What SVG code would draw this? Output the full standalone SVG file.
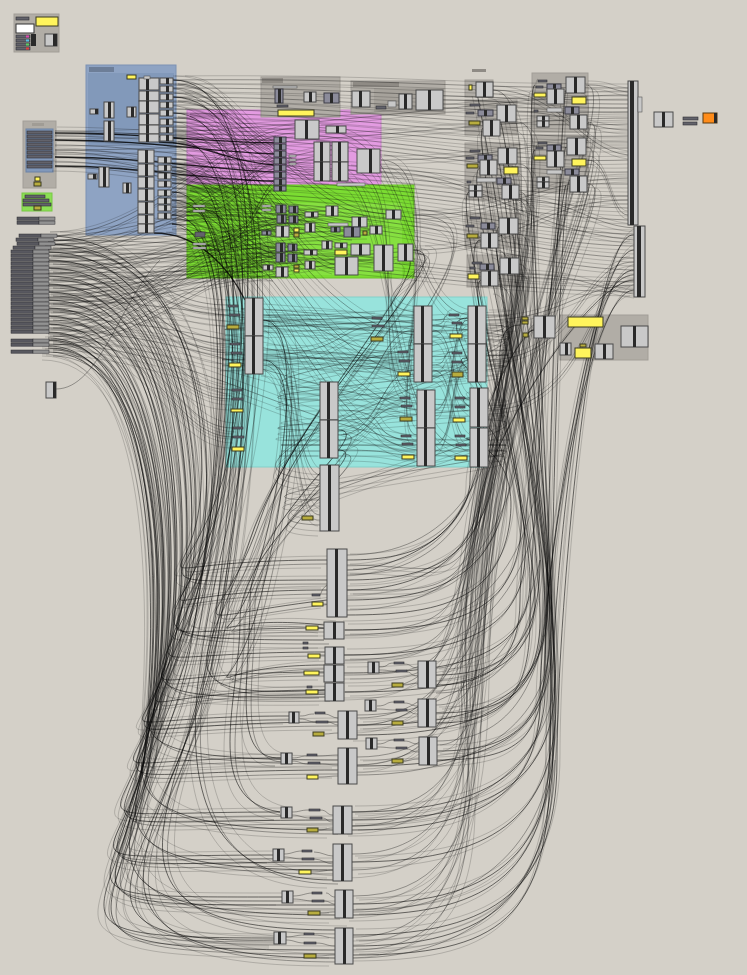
<svg xmlns="http://www.w3.org/2000/svg" xmlns:xlink="http://www.w3.org/1999/xlink" width="747" height="975" viewBox="0 0 747 975">
<style>
.gg{fill:#b1ada6;stroke:#a29e97;stroke-width:1}
.c{fill:#c9c9c9;stroke:#4a4a4a;stroke-width:1}
.k{fill:#2a2a2a}
.d{fill:#8b8b9a;stroke:#3c3c46;stroke-width:1}
.p{fill:#63636b;stroke:#2e2e33;stroke-width:.6}
.pl{fill:#c8c8c8;stroke:#555;stroke-width:.6}
.y{fill:#fff45c;stroke:#3a3a20;stroke-width:1}
.yo{fill:#b8ad3e;stroke:#3a3a20;stroke-width:1}
.w{fill:none;stroke:#111;stroke-opacity:.45;stroke-width:.8}
.wm{fill:none;stroke:#000;stroke-opacity:.6;stroke-width:.9}
.wd{fill:none;stroke:#000;stroke-opacity:.8;stroke-width:1.3}
.wl{fill:none;stroke:#111;stroke-opacity:.27;stroke-width:.7}
</style>
<defs>
<g id="row"><rect x="0" y="0" width="22" height="3.2" fill="#58585f" stroke="#2e2e33" stroke-width=".5"/><rect x="22" y="0" width="16" height="3.2" fill="#929292" stroke="#2e2e33" stroke-width=".5"/></g>
<g id="fT">
<path d="M173 80C400 78 430 88 628 88M173 88C380 88 440 100 628 100M173 97C360 97 460 115 628 112M173 105C360 105 470 130 628 124M173 113C360 113 470 140 628 136M173 122C360 122 480 150 628 148M173 130C380 130 480 165 628 160M173 138C380 138 490 175 628 172M172 159C380 159 480 185 628 184M172 167C380 167 490 195 628 196M172 175C380 175 500 205 628 208M172 183C400 183 500 215 628 220M172 192C400 192 510 232 634 234M172 200C400 200 520 245 634 246M172 207C400 207 520 255 634 258M172 215C400 215 520 268 634 270M48 240C300 240 450 280 634 282M48 252C300 252 450 290 634 292M55 135C300 135 500 95 628 95M55 150C300 150 500 118 628 118M381 160C500 160 520 140 628 142M413 250C520 250 540 200 628 200M413 215C520 215 530 180 628 178M443 100C520 100 540 108 628 108M518 112C570 112 590 130 628 130M588 85C610 85 610 90 628 92M486 320C560 320 580 285 634 285M486 360C580 360 580 262 634 262M489 410C590 410 590 275 634 275M381 172C480 172 520 230 634 240M493 90C560 90 580 150 628 155M588 160C610 160 610 215 628 215M520 199C570 199 590 225 634 228M519 274C580 274 600 290 634 294"/>
</g>
<g id="fG">
<path d="M48 236C120 236 180 210 262 208M48 244C130 244 190 230 276 230M48 256C130 256 190 250 276 248M48 268C130 268 200 265 263 267M48 280C140 280 200 270 276 272M48 292C140 292 200 245 288 246M48 304C140 304 220 258 288 258M48 316C150 316 200 220 289 218M55 131C130 131 200 140 274 140M55 145C140 145 200 160 274 162M55 162C140 162 220 186 274 186M173 80C230 80 250 140 274 140M173 88C230 88 240 160 314 155M172 159C230 159 250 210 276 209M172 167C230 167 250 220 276 220M172 175C230 175 250 232 276 232M172 183C230 183 240 248 276 248M172 192C230 192 240 258 276 258M172 200C230 200 240 270 276 272M172 207C230 207 260 215 305 215M172 215C230 215 260 228 305 228M172 224C230 224 260 253 305 253M173 113C240 113 260 170 314 170M173 122C240 122 260 175 332 175M173 130C260 130 280 250 335 265M173 138C260 138 290 240 352 240M48 328C160 328 220 215 326 211M48 340C160 340 240 235 322 245M205 206C240 206 250 160 274 158M205 245C250 245 260 190 274 182M48 236C150 236 220 130 296 128M48 250C160 250 250 150 332 150M48 262C170 262 250 230 370 230M173 97C260 97 300 210 386 214M48 274C150 274 230 200 344 232M48 286C160 286 260 240 374 258M48 298C170 298 280 260 398 252M55 152C160 152 240 200 352 222"/>
</g>
<g id="fC">
<path d="M48 250C150 250 150 305 228 305M48 262C150 262 150 315 228 315M48 274C150 274 150 344 230 344M48 286C150 286 160 353 231 353M48 298C160 298 160 390 232 390M48 310C160 310 160 399 232 399M48 322C160 322 170 428 233 428M48 334C160 334 170 437 233 437M263 315C340 315 340 318 372 318M263 355C340 355 340 327 372 327M263 317C330 317 330 352 399 352M263 357C330 357 330 361 399 361M338 400C370 400 370 398 400 398M338 440C370 440 370 407 400 407M263 320C360 320 360 315 414 315M263 350C360 350 360 360 414 360M338 395C380 395 380 330 414 330M338 435C380 435 380 370 414 370M432 325C450 325 440 315 449 315M432 365C450 365 440 352 452 352M433 330C455 330 450 400 470 400M433 370C455 370 450 440 470 440M435 410C455 410 450 320 468 320M435 445C455 445 450 360 468 360M486 325C600 325 150 385 320 388M486 365C600 365 140 400 320 400M488 405C600 405 140 430 320 430M488 445C600 445 150 445 320 445M486 330C620 330 130 470 320 480M488 450C600 450 160 500 320 500M486 315C620 315 120 330 245 330M486 355C620 355 110 360 245 360M263 325C300 325 290 470 320 475M263 365C300 365 290 515 320 515M338 410C400 410 360 440 417 440M338 450C400 450 380 455 417 455M401 252C480 252 340 300 414 312M413 215C520 215 380 350 414 350M348 170C420 170 360 395 417 395M381 160C460 160 380 435 417 435M330 170C400 170 380 450 470 450M318 130C420 130 400 305 468 315M488 420C600 420 170 520 320 525M486 340C610 340 200 300 245 310M172 159C260 159 300 320 414 335M172 183C270 183 300 360 414 375M172 207C260 207 320 400 417 410M172 224C260 224 320 440 417 450M48 300C200 300 300 340 468 330M48 318C200 318 330 380 468 370M48 330C200 330 330 410 470 405M48 344C200 344 330 450 470 445"/>
</g>
<g id="fL">
<path d="M48 236C180 236 210 400 200 500S120 560 327 560M48 244C180 244 215 400 205 520S110 590 327 590M48 252C170 252 200 420 195 540S110 628 324 628M48 260C170 260 200 430 190 560S100 652 325 652M48 268C170 268 195 440 185 580S90 672 324 672M48 276C170 276 190 450 180 600S80 690 325 690M48 284C160 284 185 460 175 610S60 716 289 716M48 292C160 292 185 470 172 620S60 722 338 722M48 300C160 300 180 480 168 640S50 758 281 758M48 308C160 308 180 490 165 650S50 770 338 770M48 316C150 316 175 500 160 670S30 812 280 812M48 324C150 324 175 510 158 680S30 820 333 820M48 332C150 332 170 520 155 700S20 855 273 855M48 340C150 340 170 530 152 710S20 862 333 862M48 348C150 348 170 540 150 720S20 897 282 897M48 352C150 352 165 550 148 730S20 905 335 905M48 338C150 338 165 560 146 740S10 938 275 938M48 346C150 346 160 570 145 750S10 950 335 950M173 80C260 80 260 300 230 450S100 580 327 580M173 113C260 113 250 330 225 480S80 640 324 640M173 138C250 138 240 360 215 520S60 700 325 697M172 167C250 167 235 400 205 560S40 760 338 760M172 192C240 192 230 420 200 580S30 830 333 830M172 215C240 215 225 450 195 620S20 870 333 870M172 224C240 224 220 480 190 650S10 915 335 915M205 210C260 210 250 480 215 650S20 958 335 958M205 245C260 245 250 500 205 680S30 945 275 940M263 320C300 320 290 450 260 560S180 610 324 625M263 360C300 360 290 480 260 600S180 665 325 665M338 430C380 430 250 520 250 600S230 760 281 758M338 450C380 450 240 540 240 620S200 800 280 812M413 250C470 250 300 400 260 520S160 620 327 600M401 255C450 255 290 420 250 540S150 700 325 690M173 97C270 97 270 320 240 470S120 880 333 880M172 200C250 200 240 440 215 620S60 930 335 930"/>
</g>
<g id="fR">
<path d="M347 560C420 560 460 540 480 460S430 318 468 318M347 580C430 580 480 560 495 470S440 358 468 358M347 600C430 600 490 580 505 500S440 398 470 398M347 615C440 615 500 600 510 520S450 438 470 438M345 630C440 630 510 620 520 540S470 325 520 325M344 655C440 655 520 640 525 560S460 280 482 280M344 673C450 673 530 660 530 580S450 240 481 240M345 692C450 692 535 680 535 600S450 200 469 192M436 675C500 675 540 650 540 560S460 170 480 168M436 713C510 713 545 690 545 600S470 130 483 128M437 751C520 751 550 720 550 620S480 95 476 90M357 725C480 725 548 700 548 600S480 230 500 226M357 766C490 766 552 740 552 640S490 265 500 266M352 820C480 820 555 790 555 680S500 157 498 156M352 862C490 862 556 820 556 700S510 115 497 113M353 904C490 904 555 860 555 720S520 85 535 85M353 946C490 946 553 900 553 740S520 150 535 150M353 955C500 955 550 920 550 760S580 270 634 270M352 830C470 830 540 800 540 700S590 250 634 250M437 760C520 760 545 740 545 650S590 290 634 290M357 735C470 735 540 710 540 620S500 330 534 330M347 570C400 570 470 530 470 480S520 330 534 330M436 685C490 685 520 660 520 600S560 200 566 185M436 723C500 723 530 700 530 620S560 150 566 147M352 812C470 812 545 780 545 690S560 100 566 90M353 915C480 915 550 880 550 740S560 180 570 180M353 935C480 935 557 900 557 760S590 230 634 235M347 590C420 590 470 560 480 500S590 280 634 280"/>
</g>
<g id="fV">
<path d="M517 122C560 122 510 300 490 450S450 565 347 565M518 164C560 164 505 320 485 470S450 630 344 630M520 199C555 199 500 340 480 490S450 655 344 655M518 234C550 234 495 360 475 510S450 675 344 675M519 274C550 274 490 380 470 520S440 692 344 692M588 122C620 122 540 300 510 450S470 718 357 718M588 184C620 184 535 320 505 480S480 757 357 757M586 147C620 147 530 330 500 500S500 812 352 812M586 85C620 85 530 300 500 470S510 854 352 854M497 175C540 175 510 360 490 520S520 896 353 896M498 286C530 286 500 420 480 540S520 937 353 937M493 90C540 90 520 300 495 450S450 590 347 590M517 200C550 200 500 380 490 500S480 668 436 668M518 264C550 264 500 400 490 520S490 705 436 705M497 250C530 250 500 420 485 540S490 745 437 745M500 226C540 226 495 380 480 500S460 725 357 725M500 160C540 160 495 400 480 520S470 765 357 765M520 192C550 192 490 420 475 540S500 826 352 826M519 274C545 274 488 440 470 560S510 870 352 870M588 122C600 122 485 460 468 580S520 910 353 910M588 184C600 184 483 480 465 600S530 950 353 950"/>
</g>
</defs>
<rect x="0" y="0" width="747" height="975" fill="#d4d0c8"/>
<g id="groups">
<g id="grp-topleft"><rect x="14" y="14" width="45" height="38" class="gg"/></g>
<g id="grp-blue"><rect x="86" y="65" width="90" height="170" fill="#8ea3c3" stroke="#7d92b3"/><rect x="88" y="73" width="86" height="72" fill="#8299ba"/><rect x="89" y="67" width="25" height="5" fill="#6d7e98"/></g>
<g id="grp-left"><rect x="23" y="121" width="33" height="67" class="gg"/><rect x="26" y="129" width="27" height="43" fill="#8198ba" stroke="#6d83a5"/><rect x="32" y="123" width="12" height="3" fill="#a09c95"/></g>
<g id="grp-lgreen"><rect x="22" y="193" width="30" height="18" fill="#8cdf55" stroke="#77c845"/></g>
<g id="grp-pink"><rect x="187" y="110" width="194" height="80" fill="#e39be1" stroke="#cc88cc"/><rect x="190" y="113" width="38" height="4" fill="#b87ab6"/></g>
<g id="grp-green"><rect x="187" y="185" width="227" height="93" fill="#7bdc32" stroke="#6cc42a"/><rect x="260" y="203" width="142" height="72" fill="#86e040"/><rect x="190" y="188" width="30" height="4" fill="#5fb02a"/></g>
<g id="grp-cyan"><rect x="226" y="297" width="261" height="170" fill="#98e3dc" stroke="#84cfc8"/></g>
<g id="grp-top1"><rect x="261" y="77" width="79" height="40" class="gg"/><rect x="262" y="78" width="21" height="5" fill="#8f8b85"/></g>
<g id="grp-top2"><rect x="351" y="81" width="94" height="33" class="gg"/><rect x="353" y="82" width="46" height="5" fill="#8f8b85"/><rect x="374" y="88" width="70" height="24" fill="#a6a29b"/></g>
<g id="grp-ra"><rect x="465" y="80" width="28" height="17" class="gg"/><rect x="472" y="69" width="14" height="3" fill="#8f8b85"/></g>
<g id="grp-rb"><rect x="465" y="100" width="52" height="35" class="gg"/></g>
<g id="grp-rc"><rect x="465" y="143" width="55" height="57" class="gg"/></g>
<g id="grp-rd"><rect x="465" y="213" width="55" height="35" class="gg"/></g>
<g id="grp-re"><rect x="467" y="255" width="53" height="32" class="gg"/></g>
<g id="grp-rf"><rect x="532" y="73" width="56" height="59" class="gg"/></g>
<g id="grp-rg"><rect x="532" y="135" width="56" height="57" class="gg"/></g>
<g id="grp-br"><rect x="560" y="315" width="88" height="45" class="gg"/></g>
</g>
<g id="connectors">
<use href="#fT" class="w"/>
<use href="#fT" class="wl" transform="translate(0,4)"/>
<use href="#fT" class="wl" transform="translate(0,-4)"/>
<use href="#fG" class="w"/>
<use href="#fG" class="w" transform="translate(0,5)"/>
<use href="#fG" class="wl" transform="translate(2,-4)"/>
<use href="#fG" class="wl" transform="translate(-3,9)"/>
<use href="#fC" class="w"/>
<use href="#fC" class="wl" transform="translate(0,6)"/>
<use href="#fC" class="wl" transform="translate(3,-5)"/>
<use href="#fC" class="wl" transform="translate(-2,11)"/>
<use href="#fL" class="wm"/>
<use href="#fL" class="w" transform="translate(5,4)"/>
<use href="#fL" class="wl" transform="translate(-6,8)"/>
<use href="#fL" class="wl" transform="translate(12,-4)"/>
<use href="#fR" class="wm"/>
<use href="#fR" class="wl" transform="translate(-4,6)"/>
<use href="#fR" class="wl" transform="translate(3,-6)"/>
<use href="#fV" class="w"/>
<use href="#fV" class="wl" transform="translate(6,4)"/>
<use href="#fV" class="wl" transform="translate(-5,8)"/>
<path class="wd" d="M55 133C150 133 200 142 274 143M55 140C150 140 210 152 274 154M55 157C150 157 210 170 274 172M55 166C140 166 200 180 274 181M159 142C200 142 220 160 274 165M154 233C200 233 230 270 245 300"/>
<path class="w" d="M379 667C390 667 385 663 394 663M379 670C390 670 385 671 396 671M377 706C388 706 385 702 394 702M377 709C388 709 385 710 396 710M377 744C388 744 385 740 394 740M377 747C388 747 385 748 396 748M404 664C412 664 410 668 418 668M407 672C412 672 410 676 418 676M403 685C412 685 410 683 418 683M404 703C412 703 410 706 418 706M407 711C412 711 410 714 418 714M403 723C412 723 410 721 418 721M404 741C412 741 410 744 419 744M407 749C412 749 410 752 419 752M403 761C412 761 410 759 419 759M300 716C308 716 306 714 314 714M300 719C308 719 308 722 316 722M292 758C300 758 300 756 307 756M292 761C300 761 300 764 308 764M292 812C300 812 300 810 309 810M292 815C300 815 302 818 310 818M284 854C292 854 294 851 302 851M284 857C292 857 294 859 302 859M293 896C302 896 306 893 312 893M293 899C302 899 306 901 312 901M286 937C294 937 296 935 304 935M286 940C294 940 296 943 304 943M320 810C328 810 326 815 333 815M322 818C328 818 326 822 333 822M319 830C326 830 326 828 333 828M314 852C322 852 326 856 333 856M314 859C322 859 326 864 333 864M311 872C322 872 326 870 333 870M326 893C330 893 330 897 335 897M324 901C330 901 330 904 335 904M320 913C328 913 328 912 335 912M314 935C324 935 326 938 335 938M316 943C326 943 326 946 335 946M316 956C326 956 326 955 335 955M325 714C330 714 332 718 338 718M328 722C332 722 334 725 338 725M325 734C330 734 332 733 338 733M317 756C326 756 330 755 338 755M320 764C328 764 330 765 338 765M319 777C328 777 330 776 338 776M319 595C322 595 320 590 327 585M323 604C325 604 325 604 327 604M318 628C321 628 321 628 324 628M320 655C322 655 322 655 325 655M318 673C321 673 321 673 324 673M317 692C321 692 321 692 325 692M347 555C450 555 500 480 520 330M347 575C430 575 480 520 480 450M347 610C460 610 530 540 534 320M345 635C450 635 520 600 540 470M345 660C450 660 520 620 540 500M436 693C500 693 530 650 540 560M437 741C500 741 540 700 548 600M357 715C470 715 520 650 540 560M357 775C480 775 548 720 550 640M352 826C470 826 555 760 555 670M353 912C480 912 555 840 555 720M353 958C480 958 555 880 555 760M56 389C100 389 120 300 160 260"/>
</g>
<g id="nodes">
<g id="n-tl"><rect x="16" y="17" width="13" height="3" class="p"/><rect x="36" y="17" width="22" height="9" class="y"/><rect x="16" y="24" width="18" height="9" fill="#fff" stroke="#333"/><rect x="16" y="35" width="14" height="3" class="p"/><rect x="16" y="39" width="14" height="3" class="p"/><rect x="16" y="43" width="14" height="3" class="p"/><rect x="16" y="47" width="14" height="3" class="p"/><rect x="26" y="35.5" width="3" height="2" fill="#e04ab0"/><rect x="26" y="39.5" width="3" height="2" fill="#58c0e0"/><rect x="26" y="43.5" width="3" height="2" fill="#5ad060"/><rect x="26" y="47.5" width="3" height="2" fill="#e04040"/><rect x="45" y="34" width="12" height="12" class="c"/><rect x="53" y="34" width="4" height="12" class="k"/><rect x="31" y="34" width="5" height="12" class="k"/></g>
<g id="n-blueA">
<rect x="139" y="78" width="20" height="12" class="c"/><rect x="146" y="78" width="3" height="12" class="k"/>
<rect x="139" y="91" width="20" height="10" class="c"/><rect x="146" y="91" width="3" height="10" class="k"/>
<rect x="139" y="101" width="20" height="12" class="c"/><rect x="146" y="101" width="3" height="12" class="k"/>
<rect x="139" y="114" width="20" height="11" class="c"/><rect x="146" y="114" width="3" height="11" class="k"/>
<rect x="139" y="125" width="20" height="9" class="c"/><rect x="146" y="125" width="3" height="9" class="k"/>
<rect x="139" y="134" width="20" height="8" class="c"/><rect x="146" y="134" width="3" height="8" class="k"/>
</g>
<g id="n-blueAo">
<rect x="160" y="78" width="13" height="6" class="c"/><rect x="166" y="78" width="3" height="6" class="k"/>
<rect x="160" y="86" width="13" height="6" class="c"/><rect x="166" y="86" width="3" height="6" class="k"/>
<rect x="160" y="94" width="13" height="6" class="c"/><rect x="166" y="94" width="3" height="6" class="k"/>
<rect x="160" y="102" width="13" height="6" class="c"/><rect x="166" y="102" width="3" height="6" class="k"/>
<rect x="160" y="110" width="13" height="6" class="c"/><rect x="166" y="110" width="3" height="6" class="k"/>
<rect x="160" y="119" width="13" height="6" class="c"/><rect x="166" y="119" width="3" height="6" class="k"/>
<rect x="160" y="127" width="13" height="6" class="c"/><rect x="166" y="127" width="3" height="6" class="k"/>
<rect x="160" y="135" width="13" height="6" class="c"/><rect x="166" y="135" width="3" height="6" class="k"/>
</g>
<g id="n-blueB">
<rect x="138" y="150" width="16" height="13" class="c"/><rect x="145" y="150" width="3" height="13" class="k"/>
<rect x="138" y="164" width="16" height="12" class="c"/><rect x="145" y="164" width="3" height="12" class="k"/>
<rect x="138" y="177" width="16" height="11" class="c"/><rect x="145" y="177" width="3" height="11" class="k"/>
<rect x="138" y="189" width="16" height="12" class="c"/><rect x="145" y="189" width="3" height="12" class="k"/>
<rect x="138" y="202" width="16" height="12" class="c"/><rect x="145" y="202" width="3" height="12" class="k"/>
<rect x="138" y="215" width="16" height="9" class="c"/><rect x="145" y="215" width="3" height="9" class="k"/>
<rect x="138" y="224" width="16" height="9" class="c"/><rect x="145" y="224" width="3" height="9" class="k"/>
</g>
<g id="n-blueBo">
<rect x="158" y="157" width="13" height="6" class="c"/><rect x="164" y="157" width="3" height="6" class="k"/>
<rect x="158" y="165" width="13" height="6" class="c"/><rect x="164" y="165" width="3" height="6" class="k"/>
<rect x="158" y="173" width="13" height="6" class="c"/><rect x="164" y="173" width="3" height="6" class="k"/>
<rect x="158" y="181" width="13" height="6" class="c"/><rect x="164" y="181" width="3" height="6" class="k"/>
<rect x="158" y="190" width="13" height="6" class="c"/><rect x="164" y="190" width="3" height="6" class="k"/>
<rect x="158" y="198" width="13" height="6" class="c"/><rect x="164" y="198" width="3" height="6" class="k"/>
<rect x="158" y="205" width="13" height="6" class="c"/><rect x="164" y="205" width="3" height="6" class="k"/>
<rect x="158" y="213" width="13" height="6" class="c"/><rect x="164" y="213" width="3" height="6" class="k"/>
</g>
<g id="n-blue-misc">
<rect x="127" y="75" width="9" height="4" class="y"/><rect x="144" y="76" width="6" height="3" class="pl"/>
<rect x="90" y="109" width="8" height="5" class="c"/><rect x="95" y="109" width="3" height="5" class="k"/>
<rect x="104" y="102" width="10" height="16" class="c"/><rect x="108" y="102" width="3" height="16" class="k"/>
<rect x="104" y="121" width="10" height="20" class="c"/><rect x="108" y="121" width="3" height="20" class="k"/>
<rect x="127" y="107" width="9" height="10" class="c"/><rect x="131" y="107" width="3" height="10" class="k"/>
<rect x="88" y="174" width="9" height="5" class="c"/><rect x="93" y="174" width="3" height="5" class="k"/>
<rect x="99" y="167" width="10" height="20" class="c"/><rect x="103" y="167" width="3" height="20" class="k"/>
<rect x="123" y="183" width="8" height="10" class="c"/><rect x="126" y="183" width="3" height="10" class="k"/>
</g>
<g id="n-leftgroup">
<rect x="27" y="131" width="25" height="3" class="p"/><rect x="27" y="135" width="25" height="3" class="p"/><rect x="27" y="139" width="25" height="3" class="p"/><rect x="27" y="143" width="25" height="3" class="p"/><rect x="27" y="147" width="25" height="3" class="p"/><rect x="27" y="151" width="25" height="3" class="p"/><rect x="27" y="155" width="25" height="3" class="p"/><rect x="27" y="161" width="25" height="3" class="p"/><rect x="27" y="165" width="25" height="3" class="p"/>
<rect x="35" y="177" width="5" height="4" class="y"/><rect x="34" y="182" width="7" height="4" class="yo"/>
</g>
<g id="n-lgreen"><rect x="25" y="195" width="20" height="3" class="p"/><rect x="23" y="199" width="26" height="3" class="p"/><rect x="23" y="203" width="28" height="3" class="p"/><rect x="34" y="206" width="7" height="4" class="yo"/></g>
<g id="n-leftlist">
<use href="#row" x="17" y="217"/><use href="#row" x="17" y="221"/>
<use href="#row" x="19" y="234"/><use href="#row" x="16" y="238"/><use href="#row" x="17" y="242"/><use href="#row" x="13" y="246"/>
<use href="#row" x="11" y="250"/><use href="#row" x="11" y="254"/><use href="#row" x="11" y="258"/><use href="#row" x="11" y="262"/>
<use href="#row" x="11" y="266"/><use href="#row" x="11" y="270"/><use href="#row" x="11" y="274"/><use href="#row" x="11" y="278"/>
<use href="#row" x="11" y="282"/><use href="#row" x="11" y="286"/><use href="#row" x="11" y="290"/><use href="#row" x="11" y="294"/>
<use href="#row" x="11" y="298"/><use href="#row" x="11" y="302"/><use href="#row" x="11" y="306"/><use href="#row" x="11" y="310"/>
<use href="#row" x="11" y="314"/><use href="#row" x="11" y="318"/><use href="#row" x="11" y="322"/><use href="#row" x="11" y="326"/>
<use href="#row" x="11" y="330"/><use href="#row" x="11" y="339"/><use href="#row" x="11" y="343"/><use href="#row" x="11" y="350"/>
</g>
<g id="n-lone"><rect x="46" y="382" width="10" height="16" class="c"/><rect x="53" y="382" width="3" height="16" class="k"/></g>
<g id="n-pink">
<rect x="274" y="137" width="12" height="6" class="d"/><rect x="279" y="137" width="3" height="6" class="k"/>
<rect x="274" y="144" width="12" height="6" class="d"/><rect x="279" y="144" width="3" height="6" class="k"/>
<rect x="274" y="151" width="12" height="6" class="d"/><rect x="279" y="151" width="3" height="6" class="k"/>
<rect x="274" y="158" width="12" height="6" class="d"/><rect x="279" y="158" width="3" height="6" class="k"/>
<rect x="274" y="165" width="12" height="6" class="d"/><rect x="279" y="165" width="3" height="6" class="k"/>
<rect x="274" y="172" width="12" height="6" class="d"/><rect x="279" y="172" width="3" height="6" class="k"/>
<rect x="274" y="179" width="12" height="6" class="d"/><rect x="279" y="179" width="3" height="6" class="k"/>
<rect x="274" y="186" width="12" height="5" class="d"/><rect x="279" y="186" width="3" height="5" class="k"/>
<rect x="289" y="155" width="7" height="2" class="pl"/><rect x="289" y="159" width="7" height="2" class="pl"/><rect x="289" y="163" width="7" height="2" class="pl"/>
<rect x="314" y="142" width="16" height="20" class="c"/><rect x="320" y="142" width="3" height="20" class="k"/>
<rect x="314" y="162" width="16" height="19" class="c"/><rect x="320" y="162" width="3" height="19" class="k"/>
<rect x="332" y="142" width="16" height="20" class="c"/><rect x="338" y="142" width="3" height="20" class="k"/>
<rect x="332" y="162" width="16" height="19" class="c"/><rect x="338" y="162" width="3" height="19" class="k"/>
<rect x="357" y="149" width="23" height="24" class="c"/><rect x="369" y="149" width="3" height="24" class="k"/>
<rect x="295" y="120" width="24" height="19" class="c"/><rect x="305" y="120" width="3" height="19" class="k"/>
<rect x="326" y="126" width="20" height="7" class="c"/><rect x="336" y="126" width="3" height="7" class="k"/>
<rect x="337" y="183" width="28" height="3" class="pl"/>
</g>
<g id="n-green">
<rect x="193" y="205" width="12" height="2" class="pl"/><rect x="193" y="210" width="12" height="2" class="pl"/>
<rect x="262" y="205" width="9" height="2" class="pl"/><rect x="262" y="209" width="9" height="2" class="pl"/>
<rect x="195" y="232" width="10" height="5" class="p"/><rect x="193" y="243" width="13" height="2" class="pl"/><rect x="193" y="247" width="13" height="2" class="pl"/>
<rect x="276" y="205" width="10" height="8" class="d"/><rect x="280" y="205" width="3" height="8" class="k"/>
<rect x="289" y="206" width="9" height="7" class="d"/><rect x="293" y="206" width="3" height="7" class="k"/>
<rect x="277" y="215" width="9" height="8" class="d"/><rect x="281" y="215" width="3" height="8" class="k"/>
<rect x="289" y="216" width="9" height="7" class="d"/><rect x="293" y="216" width="3" height="7" class="k"/>
<rect x="276" y="226" width="13" height="11" class="c"/><rect x="281" y="226" width="3" height="11" class="k"/>
<rect x="294" y="228" width="5" height="4" class="y"/><rect x="294" y="233" width="5" height="4" class="yo"/>
<rect x="305" y="212" width="13" height="5" class="c"/><rect x="311" y="212" width="3" height="5" class="k"/>
<rect x="305" y="223" width="10" height="9" class="c"/><rect x="309" y="223" width="3" height="9" class="k"/>
<rect x="326" y="206" width="12" height="10" class="c"/><rect x="331" y="206" width="3" height="10" class="k"/>
<rect x="328" y="223" width="20" height="3" class="pl"/>
<rect x="352" y="217" width="15" height="10" class="c"/><rect x="358" y="217" width="3" height="10" class="k"/>
<rect x="331" y="227" width="9" height="5" class="d"/><rect x="334" y="227" width="3" height="5" class="k"/>
<rect x="344" y="227" width="16" height="10" class="d"/><rect x="351" y="227" width="3" height="10" class="k"/>
<rect x="363" y="231" width="4" height="4" class="yo"/>
<rect x="370" y="226" width="12" height="8" class="c"/><rect x="375" y="226" width="3" height="8" class="k"/>
<rect x="386" y="210" width="15" height="9" class="c"/><rect x="392" y="210" width="3" height="9" class="k"/>
<rect x="262" y="231" width="9" height="4" class="d"/><rect x="266" y="231" width="2" height="4" class="k"/>
<rect x="276" y="243" width="9" height="9" class="d"/><rect x="280" y="243" width="3" height="9" class="k"/>
<rect x="288" y="244" width="9" height="7" class="d"/><rect x="292" y="244" width="3" height="7" class="k"/>
<rect x="276" y="253" width="9" height="9" class="d"/><rect x="280" y="253" width="3" height="9" class="k"/>
<rect x="288" y="254" width="9" height="8" class="d"/><rect x="292" y="254" width="3" height="8" class="k"/>
<rect x="304" y="250" width="13" height="5" class="c"/><rect x="310" y="250" width="3" height="5" class="k"/>
<rect x="305" y="261" width="10" height="8" class="c"/><rect x="309" y="261" width="3" height="8" class="k"/>
<rect x="263" y="265" width="10" height="5" class="c"/><rect x="267" y="265" width="3" height="5" class="k"/>
<rect x="276" y="267" width="12" height="10" class="c"/><rect x="281" y="267" width="3" height="10" class="k"/>
<rect x="294" y="265" width="5" height="3" class="yo"/><rect x="294" y="269" width="5" height="3" class="y"/>
<rect x="322" y="241" width="10" height="8" class="c"/><rect x="326" y="241" width="3" height="8" class="k"/>
<rect x="335" y="243" width="12" height="5" class="c"/><rect x="340" y="243" width="3" height="5" class="k"/>
<rect x="335" y="250" width="12" height="5" class="y"/>
<rect x="335" y="257" width="23" height="18" class="c"/><rect x="345" y="257" width="3" height="18" class="k"/>
<rect x="351" y="244" width="19" height="11" class="c"/><rect x="359" y="244" width="3" height="11" class="k"/>
<rect x="374" y="245" width="19" height="26" class="c"/><rect x="382" y="245" width="3" height="26" class="k"/>
<rect x="398" y="244" width="15" height="17" class="c"/><rect x="404" y="244" width="3" height="17" class="k"/>
</g>
<g id="n-top1">
<rect x="273" y="86" width="24" height="2" class="pl"/>
<rect x="275" y="89" width="8" height="14" class="d"/><rect x="278" y="89" width="3" height="14" class="k"/>
<rect x="277" y="105" width="11" height="2" class="p"/>
<rect x="304" y="92" width="12" height="10" class="c"/><rect x="309" y="92" width="3" height="10" class="k"/>
<rect x="324" y="93" width="15" height="10" class="d"/><rect x="330" y="93" width="3" height="10" class="k"/>
<rect x="278" y="110" width="36" height="6" class="y"/>
</g>
<g id="n-top2">
<rect x="352" y="91" width="18" height="16" class="c"/><rect x="359" y="91" width="3" height="16" class="k"/>
<rect x="376" y="106" width="10" height="3" class="p"/><rect x="388" y="101" width="8" height="6" class="pl"/>
<rect x="399" y="94" width="13" height="15" class="c"/><rect x="404" y="94" width="3" height="15" class="k"/>
<rect x="416" y="90" width="27" height="20" class="c"/><rect x="428" y="90" width="3" height="20" class="k"/>
</g>
<g id="n-ra"><rect x="469" y="85" width="3" height="5" class="y"/><rect x="476" y="82" width="17" height="15" class="c"/><rect x="483" y="82" width="3" height="15" class="k"/></g>
<g id="n-rb">
<rect x="470" y="104" width="10" height="2" class="p"/><rect x="466" y="112" width="8" height="2" class="p"/>
<rect x="478" y="110" width="15" height="6" class="d"/><rect x="484" y="110" width="3" height="6" class="k"/>
<rect x="497" y="105" width="19" height="17" class="c"/><rect x="505" y="105" width="3" height="17" class="k"/>
<rect x="469" y="121" width="11" height="4" class="yo"/>
<rect x="483" y="120" width="17" height="16" class="c"/><rect x="490" y="120" width="3" height="16" class="k"/>
</g>
<g id="n-rc">
<rect x="470" y="150" width="10" height="2" class="p"/><rect x="466" y="157" width="8" height="2" class="p"/>
<rect x="478" y="155" width="14" height="7" class="d"/><rect x="484" y="155" width="3" height="7" class="k"/>
<rect x="498" y="148" width="19" height="16" class="c"/><rect x="506" y="148" width="3" height="16" class="k"/>
<rect x="467" y="164" width="11" height="4" class="yo"/>
<rect x="480" y="160" width="17" height="15" class="c"/><rect x="487" y="160" width="3" height="15" class="k"/>
<rect x="504" y="167" width="14" height="7" class="y"/>
<rect x="477" y="178" width="19" height="4" class="pl"/><rect x="467" y="181" width="4" height="2" class="p"/>
<rect x="497" y="178" width="14" height="6" class="d"/><rect x="503" y="178" width="3" height="6" class="k"/>
<rect x="469" y="185" width="13" height="6" class="c"/><rect x="474" y="185" width="3" height="6" class="k"/>
<rect x="469" y="191" width="13" height="6" class="c"/><rect x="474" y="191" width="3" height="6" class="k"/>
<rect x="502" y="185" width="17" height="14" class="c"/><rect x="509" y="185" width="3" height="14" class="k"/>
</g>
<g id="n-rd">
<rect x="470" y="217" width="10" height="2" class="p"/><rect x="466" y="225" width="8" height="2" class="p"/>
<rect x="481" y="223" width="14" height="6" class="d"/><rect x="487" y="223" width="3" height="6" class="k"/>
<rect x="499" y="218" width="19" height="16" class="c"/><rect x="507" y="218" width="3" height="16" class="k"/>
<rect x="467" y="234" width="11" height="4" class="yo"/>
<rect x="481" y="233" width="17" height="15" class="c"/><rect x="488" y="233" width="3" height="15" class="k"/>
</g>
<g id="n-re">
<rect x="472" y="262" width="10" height="2" class="p"/><rect x="470" y="267" width="5" height="2" class="p"/>
<rect x="480" y="264" width="14" height="6" class="d"/><rect x="486" y="264" width="3" height="6" class="k"/>
<rect x="500" y="258" width="19" height="16" class="c"/><rect x="508" y="258" width="3" height="16" class="k"/>
<rect x="468" y="274" width="11" height="5" class="y"/>
<rect x="481" y="271" width="17" height="15" class="c"/><rect x="488" y="271" width="3" height="15" class="k"/>
</g>
<g id="n-rf">
<rect x="538" y="80" width="9" height="2" class="p"/><rect x="536" y="86" width="7" height="2" class="p"/>
<rect x="547" y="84" width="14" height="6" class="d"/><rect x="553" y="84" width="3" height="6" class="k"/>
<rect x="566" y="77" width="19" height="16" class="c"/><rect x="574" y="77" width="3" height="16" class="k"/>
<rect x="534" y="93" width="12" height="4" class="y"/>
<rect x="547" y="89" width="17" height="15" class="c"/><rect x="554" y="89" width="3" height="15" class="k"/>
<rect x="572" y="97" width="14" height="7" class="y"/>
<rect x="534" y="110" width="4" height="2" class="p"/><rect x="547" y="108" width="15" height="4" class="pl"/>
<rect x="565" y="107" width="14" height="7" class="d"/><rect x="571" y="107" width="3" height="7" class="k"/>
<rect x="537" y="116" width="12" height="5" class="c"/><rect x="542" y="116" width="3" height="5" class="k"/>
<rect x="537" y="121" width="12" height="6" class="c"/><rect x="542" y="121" width="3" height="6" class="k"/>
<rect x="570" y="115" width="17" height="14" class="c"/><rect x="577" y="115" width="3" height="14" class="k"/>
</g>
<g id="n-rg">
<rect x="538" y="142" width="9" height="2" class="p"/><rect x="536" y="147" width="7" height="2" class="p"/>
<rect x="547" y="145" width="14" height="6" class="d"/><rect x="553" y="145" width="3" height="6" class="k"/>
<rect x="567" y="138" width="19" height="17" class="c"/><rect x="575" y="138" width="3" height="17" class="k"/>
<rect x="534" y="156" width="12" height="4" class="y"/>
<rect x="547" y="151" width="17" height="16" class="c"/><rect x="554" y="151" width="3" height="16" class="k"/>
<rect x="572" y="159" width="14" height="7" class="y"/>
<rect x="547" y="170" width="15" height="4" class="pl"/>
<rect x="565" y="169" width="14" height="6" class="d"/><rect x="571" y="169" width="3" height="6" class="k"/>
<rect x="537" y="177" width="12" height="5" class="c"/><rect x="542" y="177" width="3" height="5" class="k"/>
<rect x="537" y="182" width="12" height="6" class="c"/><rect x="542" y="182" width="3" height="6" class="k"/>
<rect x="570" y="176" width="17" height="16" class="c"/><rect x="577" y="176" width="3" height="16" class="k"/>
</g>
<g id="n-bars">
<rect x="628" y="81" width="10" height="144" class="c"/><rect x="630" y="81" width="4" height="144" class="k"/>
<rect x="638" y="97" width="4" height="15" class="pl"/>
<rect x="634" y="226" width="11" height="71" class="c"/><rect x="637" y="226" width="4" height="71" class="k"/>
</g>
<g id="n-out">
<rect x="654" y="112" width="19" height="15" class="c"/><rect x="662" y="112" width="3" height="15" class="k"/>
<rect x="683" y="117" width="15" height="3" class="p"/><rect x="683" y="122" width="14" height="3" class="p"/>
<rect x="703" y="113" width="14" height="10" fill="#ff8c1a" stroke="#5a3a10"/><rect x="714" y="113" width="3" height="10" class="k"/>
</g>
<g id="n-br">
<rect x="522" y="317" width="6" height="3" class="yo"/><rect x="522" y="321" width="6" height="3" class="yo"/><rect x="523" y="333" width="5" height="4" class="yo"/>
<rect x="534" y="316" width="21" height="22" class="c"/><rect x="543" y="316" width="3" height="22" class="k"/>
<rect x="568" y="317" width="35" height="10" class="y"/>
<rect x="621" y="326" width="27" height="21" class="c"/><rect x="633" y="326" width="3" height="21" class="k"/>
<rect x="560" y="343" width="11" height="12" class="c"/><rect x="565" y="343" width="3" height="12" class="k"/>
<rect x="580" y="344" width="6" height="3" class="yo"/>
<rect x="575" y="348" width="16" height="10" class="y"/>
<rect x="595" y="344" width="18" height="15" class="c"/><rect x="603" y="344" width="3" height="15" class="k"/>
</g>
<g id="n-cyan">
<rect x="245" y="298" width="18" height="38" class="c"/><rect x="252" y="298" width="3" height="38" class="k"/>
<rect x="245" y="336" width="18" height="38" class="c"/><rect x="252" y="336" width="3" height="38" class="k"/>
<rect x="320" y="382" width="18" height="38" class="c"/><rect x="327" y="382" width="3" height="38" class="k"/>
<rect x="320" y="420" width="18" height="38" class="c"/><rect x="327" y="420" width="3" height="38" class="k"/>
<rect x="320" y="465" width="19" height="66" class="c"/><rect x="328" y="465" width="3" height="66" class="k"/>
<rect x="414" y="306" width="18" height="38" class="c"/><rect x="421" y="306" width="3" height="38" class="k"/>
<rect x="414" y="344" width="18" height="38" class="c"/><rect x="421" y="344" width="3" height="38" class="k"/>
<rect x="417" y="390" width="18" height="38" class="c"/><rect x="424" y="390" width="3" height="38" class="k"/>
<rect x="417" y="428" width="18" height="38" class="c"/><rect x="424" y="428" width="3" height="38" class="k"/>
<rect x="468" y="306" width="18" height="38" class="c"/><rect x="475" y="306" width="3" height="38" class="k"/>
<rect x="468" y="344" width="18" height="38" class="c"/><rect x="475" y="344" width="3" height="38" class="k"/>
<rect x="470" y="388" width="18" height="39" class="c"/><rect x="477" y="388" width="3" height="39" class="k"/>
<rect x="470" y="428" width="18" height="39" class="c"/><rect x="477" y="428" width="3" height="39" class="k"/>
</g>
<g id="n-cyan-params">
<rect x="228" y="305" width="10" height="2" class="p"/><rect x="229" y="314" width="11" height="2" class="p"/><rect x="227" y="325" width="12" height="4" class="yo"/>
<rect x="230" y="343" width="10" height="2" class="p"/><rect x="231" y="352" width="11" height="2" class="p"/><rect x="229" y="363" width="12" height="4" class="y"/>
<rect x="232" y="389" width="10" height="2" class="p"/><rect x="232" y="398" width="11" height="2" class="p"/><rect x="231" y="409" width="12" height="3" class="y"/>
<rect x="233" y="427" width="10" height="2" class="p"/><rect x="233" y="436" width="11" height="2" class="p"/><rect x="232" y="447" width="12" height="4" class="y"/>
<rect x="372" y="317" width="10" height="2" class="p"/><rect x="372" y="325" width="12" height="2" class="p"/><rect x="371" y="337" width="12" height="4" class="yo"/>
<rect x="398" y="351" width="10" height="2" class="p"/><rect x="399" y="360" width="11" height="2" class="p"/><rect x="398" y="372" width="12" height="4" class="y"/>
<rect x="400" y="397" width="10" height="2" class="p"/><rect x="401" y="405" width="11" height="2" class="p"/><rect x="400" y="417" width="12" height="4" class="yo"/>
<rect x="401" y="435" width="10" height="2" class="p"/><rect x="402" y="443" width="11" height="2" class="p"/><rect x="402" y="455" width="12" height="4" class="y"/>
<rect x="449" y="314" width="10" height="2" class="p"/><rect x="452" y="322" width="10" height="2" class="p"/><rect x="450" y="334" width="12" height="4" class="y"/>
<rect x="452" y="352" width="10" height="2" class="p"/><rect x="452" y="361" width="10" height="2" class="p"/><rect x="452" y="372" width="11" height="5" class="yo"/>
<rect x="455" y="397" width="10" height="2" class="p"/><rect x="455" y="406" width="10" height="2" class="p"/><rect x="453" y="418" width="12" height="4" class="y"/>
<rect x="455" y="435" width="10" height="2" class="p"/><rect x="456" y="444" width="10" height="2" class="p"/><rect x="455" y="456" width="12" height="4" class="y"/>
<rect x="302" y="516" width="11" height="4" class="yo"/>
</g>
<g id="n-bottom">
<rect x="327" y="549" width="20" height="68" class="c"/><rect x="335" y="549" width="3" height="68" class="k"/>
<rect x="312" y="594" width="8" height="2" class="p"/><rect x="312" y="602" width="11" height="4" class="y"/>
<rect x="324" y="622" width="20" height="17" class="c"/><rect x="333" y="622" width="3" height="17" class="k"/>
<rect x="306" y="626" width="12" height="4" class="y"/>
<rect x="303" y="642" width="5" height="2" class="p"/><rect x="303" y="647" width="5" height="2" class="p"/><rect x="308" y="654" width="12" height="4" class="y"/>
<rect x="325" y="647" width="19" height="17" class="c"/><rect x="333" y="647" width="3" height="17" class="k"/>
<rect x="324" y="665" width="20" height="17" class="c"/><rect x="333" y="665" width="3" height="17" class="k"/>
<rect x="304" y="671" width="15" height="4" class="y"/>
<rect x="325" y="683" width="19" height="18" class="c"/><rect x="333" y="683" width="3" height="18" class="k"/>
<rect x="307" y="686" width="5" height="2" class="p"/><rect x="306" y="690" width="12" height="4" class="y"/>
</g>
<g id="n-mid-a">
<rect x="368" y="662" width="11" height="11" class="c"/><rect x="372" y="662" width="3" height="11" class="k"/>
<rect x="394" y="662" width="10" height="2" class="p"/><rect x="396" y="670" width="11" height="2" class="p"/><rect x="392" y="683" width="11" height="4" class="yo"/>
<rect x="418" y="661" width="18" height="27" class="c"/><rect x="426" y="661" width="3" height="27" class="k"/>
</g>
<g id="n-mid-b">
<rect x="365" y="700" width="11" height="11" class="c"/><rect x="369" y="700" width="3" height="11" class="k"/>
<rect x="394" y="701" width="10" height="2" class="p"/><rect x="396" y="709" width="11" height="2" class="p"/><rect x="392" y="721" width="11" height="4" class="yo"/>
<rect x="418" y="699" width="18" height="28" class="c"/><rect x="426" y="699" width="3" height="28" class="k"/>
</g>
<g id="n-mid-c">
<rect x="366" y="738" width="11" height="11" class="c"/><rect x="370" y="738" width="3" height="11" class="k"/>
<rect x="394" y="739" width="10" height="2" class="p"/><rect x="396" y="747" width="11" height="2" class="p"/><rect x="392" y="759" width="11" height="4" class="yo"/>
<rect x="419" y="737" width="18" height="28" class="c"/><rect x="427" y="737" width="3" height="28" class="k"/>
</g>
<g id="n-low1">
<rect x="289" y="712" width="10" height="11" class="c"/><rect x="292" y="712" width="3" height="11" class="k"/>
<rect x="315" y="712" width="10" height="2" class="p"/><rect x="316" y="721" width="12" height="2" class="p"/><rect x="313" y="732" width="11" height="4" class="yo"/>
<rect x="338" y="711" width="19" height="28" class="c"/><rect x="346" y="711" width="3" height="28" class="k"/>
</g>
<g id="n-low2">
<rect x="281" y="753" width="11" height="11" class="c"/><rect x="285" y="753" width="3" height="11" class="k"/>
<rect x="307" y="754" width="10" height="2" class="p"/><rect x="308" y="762" width="12" height="2" class="p"/><rect x="307" y="775" width="11" height="4" class="y"/>
<rect x="338" y="748" width="19" height="36" class="c"/><rect x="346" y="748" width="3" height="36" class="k"/>
</g>
<g id="n-low3">
<rect x="281" y="807" width="11" height="11" class="c"/><rect x="285" y="807" width="3" height="11" class="k"/>
<rect x="309" y="809" width="11" height="2" class="p"/><rect x="310" y="817" width="12" height="2" class="p"/><rect x="307" y="828" width="11" height="4" class="yo"/>
<rect x="333" y="806" width="19" height="28" class="c"/><rect x="341" y="806" width="3" height="28" class="k"/>
</g>
<g id="n-low4">
<rect x="273" y="849" width="11" height="12" class="c"/><rect x="277" y="849" width="3" height="12" class="k"/>
<rect x="302" y="850" width="10" height="2" class="p"/><rect x="302" y="858" width="12" height="2" class="p"/><rect x="299" y="870" width="12" height="4" class="y"/>
<rect x="333" y="844" width="19" height="37" class="c"/><rect x="341" y="844" width="3" height="37" class="k"/>
</g>
<g id="n-low5">
<rect x="282" y="891" width="11" height="12" class="c"/><rect x="286" y="891" width="3" height="12" class="k"/>
<rect x="312" y="892" width="10" height="2" class="p"/><rect x="312" y="900" width="12" height="2" class="p"/><rect x="308" y="911" width="12" height="4" class="yo"/>
<rect x="335" y="890" width="18" height="28" class="c"/><rect x="343" y="890" width="3" height="28" class="k"/>
</g>
<g id="n-low6">
<rect x="274" y="932" width="12" height="12" class="c"/><rect x="278" y="932" width="3" height="12" class="k"/>
<rect x="304" y="933" width="10" height="2" class="p"/><rect x="304" y="942" width="12" height="2" class="p"/><rect x="304" y="954" width="12" height="4" class="yo"/>
<rect x="335" y="928" width="18" height="36" class="c"/><rect x="343" y="928" width="3" height="36" class="k"/>
</g>
</g>
</svg>
